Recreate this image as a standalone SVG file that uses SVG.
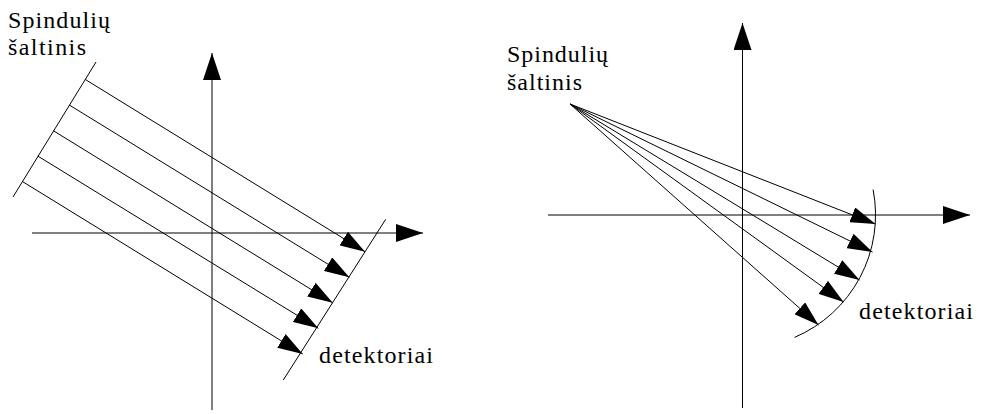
<svg xmlns="http://www.w3.org/2000/svg" width="984" height="414" viewBox="0 0 984 414">
<style>
.ln{stroke:#000;stroke-width:1;fill:none}
.ax{stroke:#000;stroke-width:1;fill:none;marker-end:url(#ah)}
.ray{stroke:#000;stroke-width:1;fill:none;marker-end:url(#rh)}
.t{font-family:"Liberation Serif","Times New Roman","DejaVu Serif",serif;font-size:24px;fill:#000}
</style>
<defs>
<marker id="ah" markerUnits="userSpaceOnUse" markerWidth="28" markerHeight="18" refX="27" refY="9" orient="auto"><path d="M0,0 L27,9 L0,18 Z" fill="#000"/></marker>
<marker id="rh" markerUnits="userSpaceOnUse" markerWidth="26" markerHeight="16" refX="25" refY="8" orient="auto"><path d="M0,0 L25,8 L0,16 Z" fill="#000"/></marker>
</defs>
<g id="left-diagram">
<g id="left-axes">
<line class="ax" x1="32" y1="233" x2="423" y2="233"/>
<line class="ax" x1="212" y1="410" x2="212" y2="53"/>
</g>
<g id="left-source">
<line class="ln" x1="13" y1="197" x2="96" y2="62"/>
<text class="t" font-family="Liberation Serif, serif" x="8" y="28" textLength="102" lengthAdjust="spacing">Spindulių</text>
<text class="t" font-family="Liberation Serif, serif" x="8" y="55" textLength="78" lengthAdjust="spacing">šaltinis</text>
</g>
<g id="left-detector">
<line class="ln" x1="283.3" y1="380" x2="385.7" y2="219.3"/>
<text class="t" font-family="Liberation Serif, serif" x="319" y="363" textLength="114" lengthAdjust="spacing">detektoriai</text>
</g>
<g id="left-rays">
<line class="ray" x1="85" y1="79.3" x2="365" y2="251.7"/>
<line class="ray" x1="69.3" y1="105" x2="349.3" y2="277.3"/>
<line class="ray" x1="53.3" y1="130.7" x2="332.7" y2="302.7"/>
<line class="ray" x1="37.7" y1="156" x2="318.3" y2="328.3"/>
<line class="ray" x1="22.7" y1="181.7" x2="302.7" y2="354"/>
</g>
</g>
<g id="right-diagram">
<g id="right-axes">
<line class="ax" x1="548" y1="215" x2="970" y2="215"/>
<line class="ax" x1="742.5" y1="408" x2="742.5" y2="23"/>
</g>
<g id="right-source">
<text class="t" font-family="Liberation Serif, serif" x="507" y="62" textLength="101" lengthAdjust="spacing">Spindulių</text>
<text class="t" font-family="Liberation Serif, serif" x="507" y="90" textLength="75" lengthAdjust="spacing">šaltinis</text>
</g>
<g id="right-detector">
<path class="ln" d="M873.1,189.6 A133,133 0 0 1 794.5,337.4"/>
<text class="t" font-family="Liberation Serif, serif" x="859" y="319" textLength="114" lengthAdjust="spacing">detektoriai</text>
</g>
<g id="right-rays">
<line class="ray" x1="570" y1="104" x2="875.5" y2="224"/>
<line class="ray" x1="570" y1="104" x2="872.5" y2="252"/>
<line class="ray" x1="570" y1="104" x2="859.5" y2="280"/>
<line class="ray" x1="570" y1="104" x2="843.5" y2="302"/>
<line class="ray" x1="570" y1="104" x2="818.5" y2="325"/>
</g>
</g>
</svg>
